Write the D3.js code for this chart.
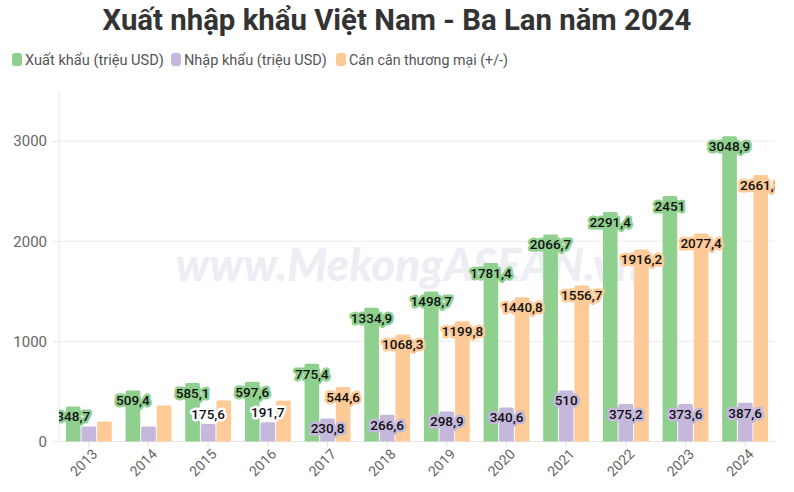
<!DOCTYPE html>
<html><head><meta charset="utf-8">
<script src="https://cdn.jsdelivr.net/npm/d3@7"></script>
<style>
html,body{margin:0;padding:0;background:#fff;}
svg{display:block;font-family:Roboto,"Noto Sans",sans-serif;}
</style></head>
<body><svg id="chart" width="794" height="492"></svg>
<script>
const years = ["2013","2014","2015","2016","2017","2018","2019","2020","2021","2022","2023","2024"];
const exportVals = [348.7,509.4,585.1,597.6,775.4,1334.9,1498.7,1781.4,2066.7,2291.4,2451,3048.9];
const importVals = [150,150,175.6,191.7,230.8,266.6,298.9,340.6,510,375.2,373.6,387.6];
const balanceVals = [198.7,359.4,409.5,405.9,544.6,1068.3,1199.8,1440.8,1556.7,1916.2,2077.4,2661.3];
const seriesNames = ["Xuất khẩu (triệu USD)","Nhập khẩu (triệu USD)","Cán cân thương mại (+/-)"];
const yTicks = [0,1000,2000,3000];
const hiddenLabels = {1:[0,1], 2:[0,1,2,3]};
const colors = ["#8fd08f","#c5b8dc","#fdca98"];
const titleText = "Xuất nhập khẩu Việt Nam - Ba Lan năm 2024";

const svg = d3.select("#chart");
const L = 59, R = 775, T = 91, B = 441.5;

// title
const title = svg.append("text").attr("x",397).attr("y",30).attr("text-anchor","middle")
  .attr("font-size",27).attr("font-weight",700).attr("fill","#333").text(titleText);
const tl = title.node().getComputedTextLength();
title.attr("font-size", 27*589/tl);

// legend
const legX = [12,171,336];
const legW = [139,143,159];
seriesNames.forEach((n,i)=>{
  const g = svg.append("g").attr("transform",`translate(${legX[i]},53)`);
  g.append("rect").attr("width",10).attr("height",13).attr("rx",3).attr("fill",colors[i]);
  const t = g.append("text").attr("x",13).attr("y",11.5).attr("font-size",14).attr("fill","#555").text(n);
  const w = t.node().getComputedTextLength();
  t.attr("font-size", 14*legW[i]/w);
});

const y = d3.scaleLinear().domain([0,3500]).range([B,T]);
const x0 = d3.scaleBand().domain(years).range([L,R]).paddingInner(0.2).paddingOuter(0.1);
const x1 = d3.scaleBand().domain([0,1,2]).range([0,x0.bandwidth()]).padding(0.06);

// gridlines
svg.append("g").selectAll("line").data(yTicks.slice(1)).join("line")
  .attr("x1",L).attr("x2",R).attr("y1",d=>y(d)).attr("y2",d=>y(d))
  .attr("stroke","#ececec").attr("stroke-width",1);

// y axis
const ya = svg.append("g").attr("transform",`translate(${L},0)`)
  .call(d3.axisLeft(y).tickValues(yTicks).tickSize(6).tickPadding(6).tickFormat(d3.format("d")));
ya.select(".domain").attr("stroke","#e6e6e6").attr("d",`M0,${T}V${B}`);
ya.selectAll(".tick line").attr("stroke","#e6e6e6");
ya.selectAll(".tick text").attr("font-size",15).attr("fill","#666").attr("font-family","Roboto,sans-serif");

// watermark
const wm = svg.append("text").attr("x",408).attr("y",281).attr("text-anchor","middle")
  .attr("font-size",44).attr("font-weight",900).attr("font-style","italic")
  .attr("fill","#ededf4").attr("font-family","Lato,Roboto,sans-serif").text("www.MekongASEAN.vn");
const ww = wm.node().getComputedTextLength();
wm.attr("font-size", 44*465/ww);

// x axis
const xa = svg.append("g").attr("transform",`translate(0,${B})`)
  .call(d3.axisBottom(x0).tickSize(6).tickPadding(4));
xa.select(".domain").attr("stroke","#e6e6e6").attr("d",`M${L},0H${R}`);
xa.selectAll(".tick line").attr("stroke","#e6e6e6");
xa.selectAll(".tick text").attr("font-size",14).attr("fill","#666")
  .attr("font-family","Roboto,sans-serif")
  .attr("text-anchor","end").attr("transform","translate(6,10) rotate(-45)").attr("dy","0.35em").attr("y",0).attr("x",0);

const data = [exportVals, importVals, balanceVals];
svg.append("clipPath").attr("id","pc").append("rect")
  .attr("x",L).attr("y",0).attr("width",R-L).attr("height",B);

// bars
data.forEach((vals,s)=>{
  svg.append("g").selectAll("path").data(vals).join("path")
    .attr("fill",colors[s])
    .attr("d",(d,i)=>{
      const bx = x0(years[i])+x1(s), w = x1.bandwidth(), top = y(d), r = 1.5;
      return `M${bx},${B}V${top+r}Q${bx},${top} ${bx+r},${top}H${bx+w-r}Q${bx+w},${top} ${bx+w},${top+r}V${B}Z`;
    });
});

// labels
const fmt = v => String(v).replace(".",",");
const lg = svg.append("g").attr("clip-path","url(#pc)");
data.forEach((vals,s)=>{
  vals.forEach((d,i)=>{
    if ((hiddenLabels[s]||[]).includes(i)) return;
    const cx = x0(years[i])+x1(s)+x1.bandwidth()/2;
    const h = B - y(d);
    const outside = h < 20;
    const cy = outside ? y(d)-10 : y(d)+10;
    lg.append("text").attr("x",cx).attr("y",cy).attr("dy","0.36em")
      .attr("text-anchor","middle").attr("font-size",13.5).attr("font-weight",500)
      .attr("fill","#111")
      .attr("stroke", outside ? "#fff" : colors[s]).attr("stroke-width",5)
      .attr("stroke-linejoin","round").attr("paint-order","stroke")
      .text(fmt(d));
  });
});
</script></body></html>
